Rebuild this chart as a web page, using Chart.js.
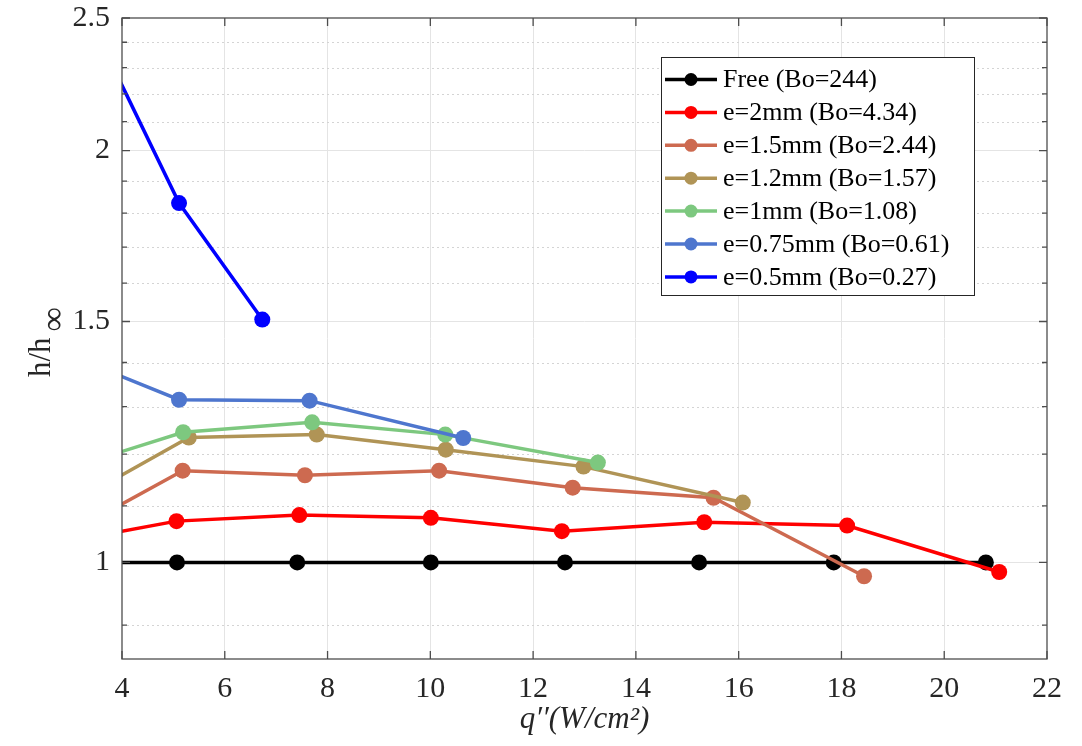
<!DOCTYPE html>
<html lang="en">
<head>
    <meta charset="UTF-8">
    <title>h/h_inf vs heat flux</title>
    <script src="https://cdn.jsdelivr.net/npm/chart.js"></script>
    <style>
        body { margin: 0; background: #fff; }
        #wrap { width: 1082px; height: 746px; }
    </style>
</head>
<body>
    <div id="wrap"><canvas id="myChart" width="1082" height="746"></canvas></div>

    <script>
        // heat flux q'' (W/cm2) and h/h_inf per confinement; first point of each sits left of the axis (clipped)
        const qFree = [3.0, 5.07, 7.41, 10.01, 12.62, 15.23, 17.85, 20.81];
        const hFree = [1, 1, 1, 1, 1, 1, 1, 1];
        const q2mm = [3.0, 5.06, 7.45, 10.01, 12.56, 15.33, 18.11, 21.07];
        const h2mm = [1.037, 1.072, 1.083, 1.078, 1.054, 1.070, 1.064, 0.984];
        const q15mm = [3.0, 5.18, 7.56, 10.17, 12.77, 15.51, 18.44];
        const h15mm = [1.052, 1.167, 1.158, 1.167, 1.134, 1.115, 0.977];
        const q12mm = [3.0, 5.30, 7.79, 10.30, 12.98, 16.08];
        const h12mm = [1.104, 1.234, 1.240, 1.209, 1.175, 1.106];
        const q1mm = [3.0, 5.19, 7.70, 10.29, 13.26];
        const h1mm = [1.173, 1.245, 1.266, 1.240, 1.183];
        const q075mm = [3.0, 5.11, 7.65, 10.64];
        const h075mm = [1.416, 1.315, 1.313, 1.233];
        const q05mm = [3.0, 5.11, 6.73];
        const h05mm = [2.668, 1.831, 1.505];

        const seriesLabels = ['Free (Bo=244)', 'e=2mm (Bo=4.34)', 'e=1.5mm (Bo=2.44)', 'e=1.2mm (Bo=1.57)',
            'e=1mm (Bo=1.08)', 'e=0.75mm (Bo=0.61)', 'e=0.5mm (Bo=0.27)'];
        const seriesColors = ['#000000', '#ff0000', '#cd6a50', '#b09456', '#7dc87f', '#4e76ce', '#0000ff'];

        const xTicks = [4, 6, 8, 10, 12, 14, 16, 18, 20, 22];
        const yTicks = [0.9, 1, 1.1, 1.2, 1.3, 1.4, 1.5, 1.6, 1.7, 1.8, 1.9, 2, 2.1, 2.2, 2.3, 2.4, 2.5];
        const yLabelTicks = [1, 1.5, 2, 2.5];

        const allQ = [qFree, q2mm, q15mm, q12mm, q1mm, q075mm, q05mm];
        const allH = [hFree, h2mm, h15mm, h12mm, h1mm, h075mm, h05mm];

        const serif = "'Liberation Serif', 'Times New Roman', serif";
        const textColor = '#262626';

        const datasets = seriesLabels.map((label, i) => ({
            label: label,
            data: allQ[i].map((q, k) => ({ x: q, y: allH[i][k] })),
            borderColor: seriesColors[i],
            backgroundColor: seriesColors[i],
            pointBackgroundColor: seriesColors[i],
            pointBorderWidth: 0,
            pointRadius: 8,
            borderWidth: 3.5,
            tension: 0,
            order: seriesLabels.length - i
        }));

        // frame, inward ticks, dotted minor grid, y title and legend
        const decor = {
            id: 'decor',
            beforeDatasetsDraw(chart) {
                const { ctx, chartArea: a, scales } = chart;
                ctx.save();
                ctx.strokeStyle = '#d4d4d4';
                ctx.lineWidth = 1;
                ctx.setLineDash([2, 3]);
                yTicks.forEach(v => {
                    if (yLabelTicks.includes(v)) return;
                    const y = Math.round(scales.y.getPixelForValue(v)) + 0.5;
                    ctx.beginPath();
                    ctx.moveTo(a.left, y);
                    ctx.lineTo(a.right, y);
                    ctx.stroke();
                });
                ctx.restore();
            },
            afterDraw(chart) {
                const { ctx, chartArea: a, scales } = chart;
                ctx.save();
                ctx.strokeStyle = '#4d4d4d';
                ctx.lineWidth = 1.3;
                ctx.strokeRect(a.left, a.top, a.right - a.left, a.bottom - a.top);
                ctx.beginPath();
                xTicks.forEach(v => {
                    const x = scales.x.getPixelForValue(v);
                    ctx.moveTo(x, a.bottom); ctx.lineTo(x, a.bottom - 8);
                    ctx.moveTo(x, a.top); ctx.lineTo(x, a.top + 8);
                });
                yTicks.forEach(v => {
                    const y = scales.y.getPixelForValue(v);
                    const len = yLabelTicks.includes(v) ? 8 : 5;
                    ctx.moveTo(a.left, y); ctx.lineTo(a.left + len, y);
                    ctx.moveTo(a.right, y); ctx.lineTo(a.right - len, y);
                });
                ctx.stroke();

                // y axis title h/h_inf
                ctx.fillStyle = textColor;
                ctx.translate(50, 377);
                ctx.rotate(-Math.PI / 2);
                ctx.font = '31px ' + serif;
                ctx.textBaseline = 'alphabetic';
                ctx.textAlign = 'left';
                ctx.fillText('h/h', 0, 0);
                const w = ctx.measureText('h/h').width;
                ctx.font = '34px ' + serif;
                ctx.fillText('\u221e', w + 6, 14);
                ctx.restore();

                // legend
                ctx.save();
                const bx = 661, by = 57, bw = 313, bh = 238;
                ctx.fillStyle = '#ffffff';
                ctx.fillRect(bx, by, bw, bh);
                ctx.strokeStyle = '#262626';
                ctx.lineWidth = 1;
                ctx.strokeRect(bx + 0.5, by + 0.5, bw, bh);
                ctx.font = '26px ' + serif;
                ctx.textBaseline = 'middle';
                ctx.textAlign = 'left';
                seriesLabels.forEach((label, i) => {
                    const y = 79.5 + i * 32.9;
                    ctx.strokeStyle = seriesColors[i];
                    ctx.lineWidth = 3.5;
                    ctx.beginPath();
                    ctx.moveTo(665, y); ctx.lineTo(717, y);
                    ctx.stroke();
                    ctx.fillStyle = seriesColors[i];
                    ctx.beginPath();
                    ctx.arc(691, y, 6.5, 0, Math.PI * 2);
                    ctx.fill();
                    ctx.fillStyle = '#000';
                    ctx.fillText(label, 723, y + 1);
                });
                ctx.restore();
            }
        };

        const ctx = document.getElementById('myChart').getContext('2d');
        const myChart = new Chart(ctx, {
            type: 'line',
            data: { datasets: datasets },
            options: {
                responsive: false,
                animation: false,
                devicePixelRatio: 1,
                layout: { padding: { left: 0, right: 35, top: 18, bottom: 0 } },
                plugins: {
                    legend: { display: false },
                    tooltip: { enabled: false }
                },
                scales: {
                    x: {
                        type: 'linear',
                        min: 4,
                        max: 22,
                        afterBuildTicks: (scale) => { scale.ticks = xTicks.map(v => ({ value: v })); },
                        afterFit: (scale) => { scale.height = 87; scale.paddingLeft = 0; scale.paddingRight = 0; },
                        ticks: { color: textColor, font: { family: serif, size: 30 }, padding: 12, maxRotation: 0 },
                        grid: {
                            drawTicks: false,
                            color: (c) => (c.tick && (c.tick.value === 4 || c.tick.value === 22)) ? 'rgba(0,0,0,0)' : '#e4e4e4'
                        },
                        border: { display: false },
                        title: {
                            display: true,
                            text: 'q\u2032\u2032(W/cm\u00b2)',
                            color: textColor,
                            font: { family: serif, size: 31, style: 'italic' },
                            padding: { top: 0, bottom: 8 }
                        }
                    },
                    y: {
                        type: 'logarithmic',
                        min: 0.85,
                        max: 2.5,
                        afterBuildTicks: (scale) => { scale.ticks = yTicks.map(v => ({ value: v })); },
                        afterFit: (scale) => { scale.width = 122; scale.paddingTop = 0; scale.paddingBottom = 0; },
                        ticks: {
                            color: textColor,
                            font: { family: serif, size: 30 },
                            padding: 12,
                            autoSkip: false,
                            callback: (v) => yLabelTicks.includes(v) ? String(v) : ''
                        },
                        grid: {
                            drawTicks: false,
                            color: (c) => (c.tick && yLabelTicks.includes(c.tick.value) && c.tick.value !== 2.5) ? '#e4e4e4' : 'rgba(0,0,0,0)'
                        },
                        border: { display: false }
                    }
                }
            },
            plugins: [decor]
        });
    </script>
</body>
</html>
